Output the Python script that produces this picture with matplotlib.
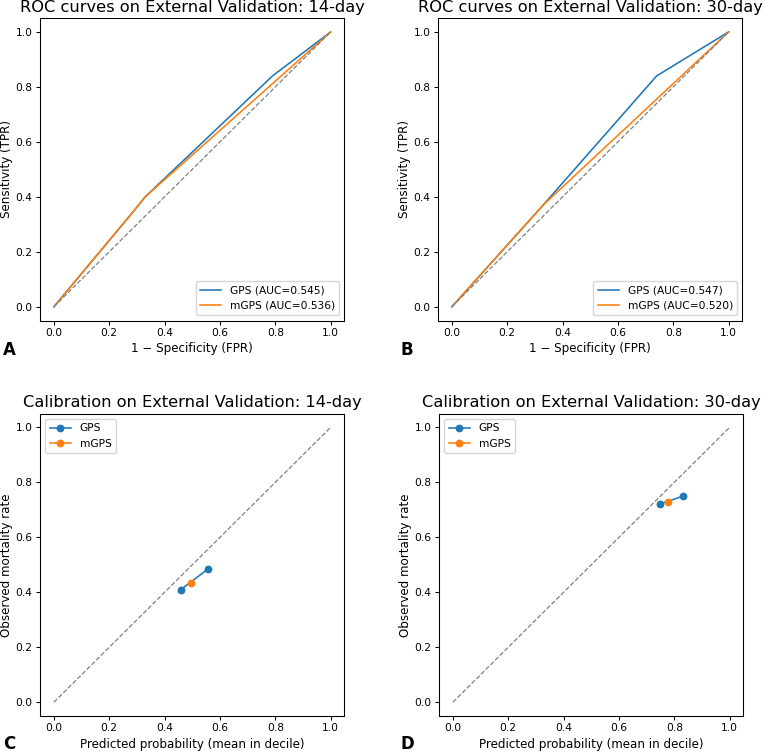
import matplotlib
matplotlib.use("Agg")
import matplotlib.pyplot as plt

# ROC data
roc14_gps_fpr = [0.0, 0.29, 0.33, 0.79, 1.0]
roc14_gps_tpr = [0.0, 0.35, 0.40, 0.84, 1.0]
roc14_mgps_fpr = [0.0, 0.29, 0.33, 1.0]
roc14_mgps_tpr = [0.0, 0.35, 0.40, 1.0]
roc30_gps_fpr = [0.0, 0.33, 0.74, 1.0]
roc30_gps_tpr = [0.0, 0.37, 0.84, 1.0]
roc30_mgps_fpr = [0.0, 0.33, 1.0]
roc30_mgps_tpr = [0.0, 0.37, 1.0]
auc14 = {"GPS": 0.545, "mGPS": 0.536}
auc30 = {"GPS": 0.547, "mGPS": 0.520}

# Calibration data
cal14_gps_pred = [0.459, 0.557]
cal14_gps_obs = [0.410, 0.485]
cal14_mgps_pred = [0.495]
cal14_mgps_obs = [0.434]
cal30_gps_pred = [0.747, 0.832]
cal30_gps_obs = [0.721, 0.750]
cal30_mgps_pred = [0.779]
cal30_mgps_obs = [0.730]

FS = 7.7
plt.rcParams.update({
    "font.size": FS,
    "axes.titlesize": 11.7,
    "axes.titlepad": 4.6,
    "axes.labelsize": 8.6,
    "axes.labelpad": 3.1,
    "xtick.labelsize": FS,
    "ytick.labelsize": FS,
    "xtick.major.pad": 2.7,
    "ytick.major.pad": 2.7,
    "legend.fontsize": FS,
    "lines.linewidth": 1.15,
    "lines.markersize": 4.6,
    "axes.linewidth": 0.77,
    "xtick.major.width": 0.77,
    "ytick.major.width": 0.77,
    "xtick.major.size": 2.7,
    "ytick.major.size": 2.7,
})

fig = plt.figure(figsize=(7.64, 7.52), dpi=100)
W = 0.3985
H = 0.4020
axA = fig.add_axes([0.0524, 0.5738, W, H])
axB = fig.add_axes([0.5733, 0.5738, W, H])
axC = fig.add_axes([0.0524, 0.0479, W, H])
axD = fig.add_axes([0.5746, 0.0479, W, H])

blue = "#1f77b4"
orange = "#ff7f0e"

def roc(ax, gf, gt, mf, mt, auc, title):
    ax.plot(gf, gt, color=blue, label=f"GPS (AUC={auc['GPS']:.3f})")
    ax.plot(mf, mt, color=orange, label=f"mGPS (AUC={auc['mGPS']:.3f})")
    ax.plot([0, 1], [0, 1], linestyle="--", color="gray", linewidth=0.9)
    ax.set_title(title)
    ax.set_xlabel("1 − Specificity (FPR)")
    ax.set_ylabel("Sensitivity (TPR)", labelpad=1.8)
    ax.legend(loc="lower right")

def cal(ax, gp, go, mp, mo, title):
    ax.plot(gp, go, marker="o", color=blue, label="GPS")
    ax.plot(mp, mo, marker="o", color=orange, label="mGPS")
    ax.plot([0, 1], [0, 1], linestyle="--", color="gray", linewidth=0.9)
    ax.set_title(title)
    ax.set_xlabel("Predicted probability (mean in decile)")
    ax.set_ylabel("Observed mortality rate", labelpad=1.8)
    ax.set_xlim(-0.05, 1.05)
    ax.set_ylim(-0.05, 1.05)
    ax.legend(loc="upper left")

roc(axA, roc14_gps_fpr, roc14_gps_tpr, roc14_mgps_fpr, roc14_mgps_tpr, auc14,
    "ROC curves on External Validation: 14-day")
roc(axB, roc30_gps_fpr, roc30_gps_tpr, roc30_mgps_fpr, roc30_mgps_tpr, auc30,
    "ROC curves on External Validation: 30-day")
cal(axC, cal14_gps_pred, cal14_gps_obs, cal14_mgps_pred, cal14_mgps_obs,
    "Calibration on External Validation: 14-day")
cal(axD, cal30_gps_pred, cal30_gps_obs, cal30_mgps_pred, cal30_mgps_obs,
    "Calibration on External Validation: 30-day")

for lbl, x, y in [("A", 3, 355), ("B", 400, 355), ("C", 3, 749), ("D", 400, 749)]:
    fig.text(x / 764, 1 - y / 752, lbl, fontsize=12, fontweight="bold",
             ha="left", va="baseline")

fig.savefig("out.png", dpi=100)
